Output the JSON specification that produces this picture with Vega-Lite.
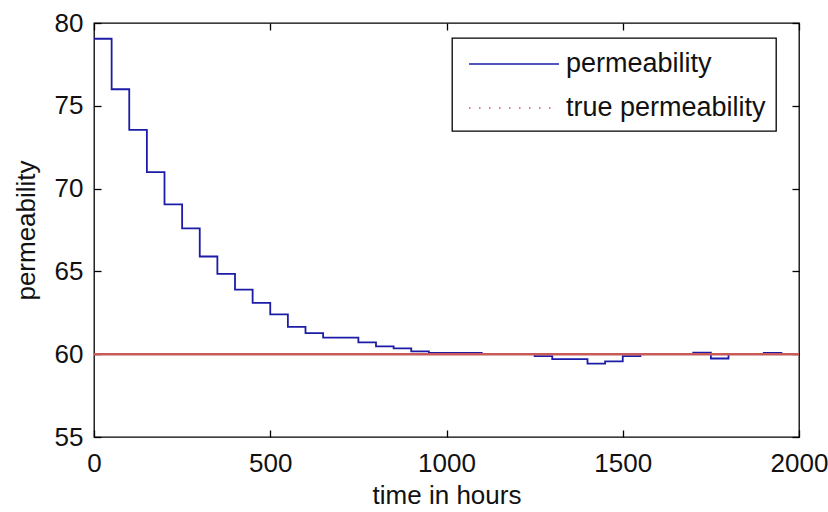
{
  "$schema": "https://vega.github.io/schema/vega-lite/v6.json",
  "width": 705,
  "height": 414,
  "autosize": "none",
  "padding": {"left": 94, "top": 23, "right": 29, "bottom": 75},
  "background": "white",
  "config": {
    "font": "Liberation Sans",
    "view": {"stroke": "black", "strokeWidth": 1.3},
    "axis": {
      "grid": false,
      "domain": false,
      "tickColor": "black",
      "tickWidth": 1.3,
      "tickSize": -7,
      "labelFontSize": 26,
      "labelColor": "#111111",
      "titleFontSize": 26,
      "titleFontWeight": "normal",
      "titleColor": "#111111",
      "format": "d"
    }
  },
  "datasets": {
    "perm": [
      {"t": 0, "k": 79.05, "series": "permeability"},
      {"t": 50, "k": 76.0, "series": "permeability"},
      {"t": 100, "k": 73.55, "series": "permeability"},
      {"t": 150, "k": 71.0, "series": "permeability"},
      {"t": 200, "k": 69.05, "series": "permeability"},
      {"t": 250, "k": 67.6, "series": "permeability"},
      {"t": 300, "k": 65.9, "series": "permeability"},
      {"t": 350, "k": 64.85, "series": "permeability"},
      {"t": 400, "k": 63.9, "series": "permeability"},
      {"t": 450, "k": 63.1, "series": "permeability"},
      {"t": 500, "k": 62.4, "series": "permeability"},
      {"t": 550, "k": 61.65, "series": "permeability"},
      {"t": 600, "k": 61.27, "series": "permeability"},
      {"t": 650, "k": 61.0, "series": "permeability"},
      {"t": 700, "k": 61.0, "series": "permeability"},
      {"t": 750, "k": 60.72, "series": "permeability"},
      {"t": 800, "k": 60.47, "series": "permeability"},
      {"t": 850, "k": 60.35, "series": "permeability"},
      {"t": 900, "k": 60.17, "series": "permeability"},
      {"t": 950, "k": 60.08, "series": "permeability"},
      {"t": 1000, "k": 60.08, "series": "permeability"},
      {"t": 1050, "k": 60.08, "series": "permeability"},
      {"t": 1100, "k": 60.0, "series": "permeability"},
      {"t": 1150, "k": 60.0, "series": "permeability"},
      {"t": 1200, "k": 60.0, "series": "permeability"},
      {"t": 1250, "k": 59.88, "series": "permeability"},
      {"t": 1300, "k": 59.7, "series": "permeability"},
      {"t": 1350, "k": 59.7, "series": "permeability"},
      {"t": 1400, "k": 59.43, "series": "permeability"},
      {"t": 1450, "k": 59.57, "series": "permeability"},
      {"t": 1500, "k": 59.88, "series": "permeability"},
      {"t": 1550, "k": 60.0, "series": "permeability"},
      {"t": 1600, "k": 60.0, "series": "permeability"},
      {"t": 1650, "k": 60.0, "series": "permeability"},
      {"t": 1700, "k": 60.1, "series": "permeability"},
      {"t": 1750, "k": 59.74, "series": "permeability"},
      {"t": 1800, "k": 60.0, "series": "permeability"},
      {"t": 1850, "k": 60.0, "series": "permeability"},
      {"t": 1900, "k": 60.08, "series": "permeability"},
      {"t": 1950, "k": 60.0, "series": "permeability"},
      {"t": 2000, "k": 60.0, "series": "permeability"}
    ],
    "truth": [
      {"t": 0, "k": 60, "series": "true permeability"},
      {"t": 2000, "k": 60, "series": "true permeability"}
    ]
  },
  "layer": [
    {
      "data": {"name": "perm"},
      "mark": {"type": "line", "interpolate": "step-after", "strokeWidth": 1.8},
      "encoding": {
        "x": {
          "field": "t", "type": "quantitative",
          "scale": {"domain": [0, 2000], "nice": false},
          "axis": {"orient": "bottom", "values": [0, 500, 1000, 1500, 2000], "labelPadding": 20, "title": "time in hours", "titlePadding": 6, "labelFlush": false}
        },
        "y": {
          "field": "k", "type": "quantitative",
          "scale": {"domain": [55, 80], "nice": false, "zero": false},
          "axis": {"orient": "left", "values": [55, 60, 65, 70, 75, 80], "labelPadding": 18, "title": "permeability", "titlePadding": 15}
        },
        "color": {
          "field": "series", "type": "nominal",
          "scale": {"domain": ["permeability", "true permeability"], "range": ["#1c1ca8", "#c85a5a"]},
          "legend": {
            "title": null,
            "orient": "none",
            "legendX": 358,
            "legendY": 15,
            "direction": "vertical",
            "padding": 10,
            "strokeColor": "black",
            "fillColor": "white",
            "cornerRadius": 0,
            "symbolType": "M-1,0H5",
            "symbolSize": 900,
            "symbolStrokeWidth": 1.6,
            "symbolOffset": 6,
            "labelOffset": 66,
            "rowPadding": 15,
            "labelFontSize": 27,
            "labelColor": "#111111",
            "labelLimit": 400,
            "encode": {
              "legend": {"update": {"strokeWidth": {"value": 1.3}}},
              "symbols": {
                "update": {
                  "strokeDash": {"signal": "datum.value == 'true permeability' ? [1.5, 8.5] : [1, 0]"}
                }
              }
            }
          }
        }
      }
    },
    {
      "data": {"name": "truth"},
      "mark": {"type": "line", "strokeWidth": 2.5},
      "encoding": {
        "x": {
          "field": "t", "type": "quantitative",
          "axis": {"orient": "top", "values": [0, 500, 1000, 1500, 2000], "labels": false, "title": null}
        },
        "y": {
          "field": "k", "type": "quantitative",
          "axis": {"orient": "right", "values": [55, 60, 65, 70, 75, 80], "labels": false, "title": null}
        },
        "color": {"field": "series", "type": "nominal"}
      }
    }
  ],
  "resolve": {"axis": {"x": "independent", "y": "independent"}}
}
